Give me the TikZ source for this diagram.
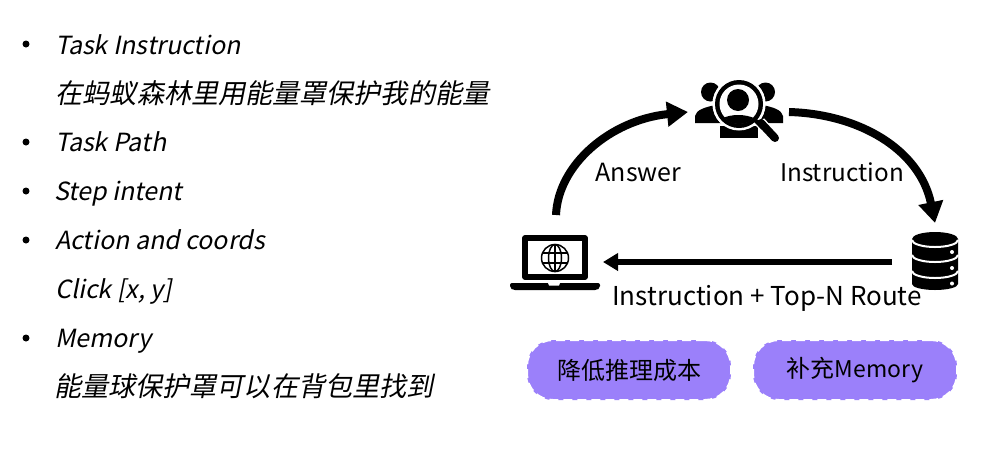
\documentclass[tikz,border=0pt]{standalone}
\usepackage{fontspec}
\setmainfont{Noto Sans CJK SC}
\newfontfamily\slantfont[FakeSlant=0.2]{Noto Sans CJK SC}
\usetikzlibrary{arrows.meta}
\definecolor{pillpurple}{HTML}{9B80FA}
\tikzset{
  x=1pt,y=-1pt,
  listtext/.style={anchor=base west,inner sep=0pt,font=\slantfont\fontsize{25}{27}\selectfont},
  cjktext/.style={anchor=base west,inner sep=0pt,font=\slantfont\fontsize{27.1}{27}\selectfont},
  bulletdot/.style={circle,fill=black,minimum size=7pt,inner sep=0pt},
  label/.style={inner sep=0pt,font=\fontsize{25}{27}\selectfont},
  pill/.style={rounded corners=26pt,fill=pillpurple,draw=white,line width=2pt,dash pattern=on 9pt off 5pt,minimum width=204pt,minimum height=60pt,inner sep=0pt,font=\fontsize{24}{26}\selectfont},
  bigarrow/.style={line width=8pt,-{Triangle[length=21pt,width=24pt]}},
  midarrow/.style={line width=5.5pt,-{Triangle[length=15pt,width=17pt]}},
}
\begin{document}
\begin{tikzpicture}
\useasboundingbox (0,0) rectangle (1000,459);
% list
\node[bulletdot] (b1) at (26,44) {};
\node[bulletdot] (b2) at (26,142) {};
\node[bulletdot] (b3) at (26,191) {};
\node[bulletdot] (b4) at (26,240) {};
\node[bulletdot] (b5) at (26,338) {};
\node[listtext] (t1) at (55,54) {Task Instruction};
\node[cjktext] (t2) at (55.5,103) {在蚂蚁森林里用能量罩保护我的能量};
\node[listtext] (t3) at (55,151) {Task Path};
\node[listtext] (t4) at (54,200) {Step intent};
\node[listtext] (t5) at (55,249) {Action and coords};
\node[listtext] (t6) at (55,298) {Click [x, y]};
\node[listtext] (t7) at (55,347) {Memory};
\node[cjktext] (t8) at (54,396) {能量球保护罩可以在背包里找到};
% connector ends
\coordinate (laptopTop) at (556,215);
\coordinate (peopleL) at (688,112);
\coordinate (peopleR) at (789,112);
\coordinate (dbTop) at (935,223);
\coordinate (dbL) at (892,262);
\coordinate (laptopR) at (603,262);
\draw[bigarrow] (laptopTop) .. controls (558,165) and (610,120) .. (peopleL);
\draw[bigarrow] (peopleR) .. controls (860,114) and (920,150) .. (dbTop);
\draw[midarrow] (dbL) -- (laptopR);
% people icon
\fill (710.5,92) circle (9.5);
\fill (765.5,92) circle (9.5);
\fill (695,123) -- (695,116) .. controls (696,110) and (705,107) .. (716,105) -- (730,123) -- cycle;
\fill (783,123) -- (783,116) .. controls (782,110) and (773,107) .. (762,105) -- (748,123) -- cycle;
\fill[white] (739,104) circle (26.5);
\fill (720,138) -- (720,126) -- (758,126) -- (758,138) -- cycle;
\fill[white] (739,104) circle (26.5);
\fill (739,104) circle (24);
\fill[white] (739,104) circle (19.5);
\fill (738,100) circle (11);
\begin{scope}
\clip (739,104) circle (20);
\fill (712,130) .. controls (716,110) and (760,110) .. (766,130) -- cycle;
\end{scope}
\draw[white,line width=11pt] (760,122) -- (770,133);
\draw[line width=8pt,line cap=round] (761,123) -- (775,138);
\draw[line width=4pt] (755,120) -- (763,128);
% laptop icon
\draw[line width=5.5pt,line join=round] (525,238) rectangle (585,277);
\fill[rounded corners=2pt] (510,283) -- (600,283) -- (600,288) -- (597,290) -- (513,290) -- (510,288) -- cycle;
\fill[white] (548,283) -- (560,283) -- (559,285.5) -- (549,285.5) -- cycle;
\draw[line width=1.5pt] (555,258) circle (13.5);
\draw[line width=1.5pt] (555,258) ellipse (6.5 and 13.5);
\draw[line width=1.5pt] (555,244.5) -- (555,271.5);
\draw[line width=1.5pt] (543,253) -- (567,253);
\draw[line width=1.5pt] (543,263) -- (567,263);
% database icon
\fill (912,239) -- (958,239) -- (958,284) arc[x radius=23,y radius=6,start angle=0,end angle=180] -- cycle;
\fill (935,239) ellipse (23 and 7);
\draw[white,line width=2pt] (912,240) arc[x radius=23,y radius=7,start angle=180,end angle=0];
\draw[white,line width=2pt] (912,255) arc[x radius=23,y radius=7,start angle=180,end angle=0];
\draw[white,line width=2pt] (912,271) arc[x radius=23,y radius=7,start angle=180,end angle=0];
\fill[white] (952,252) circle (2);
\fill[white] (952,268) circle (2);
\fill[white] (952,283.5) circle (2);
% labels
\node[label] (answer) at (638.5,172) {Answer};
\node[label,font=\fontsize{24.3}{27}\selectfont] (instr) at (842,172) {Instruction};
\node[label,font=\fontsize{26}{27}\selectfont] (route) at (767,298) {Instruction + Top-N Route};
% pills
\node[pill] (p1) at (629,370) {\raisebox{-1pt}{\textcolor{black}{降低推理成本}}};
\node[pill] (p2) at (855,370) {\raisebox{-1pt}{\textcolor{black}{补充{\fontsize{23}{26}\selectfont Memory}}}};
\end{tikzpicture}
\end{document}
